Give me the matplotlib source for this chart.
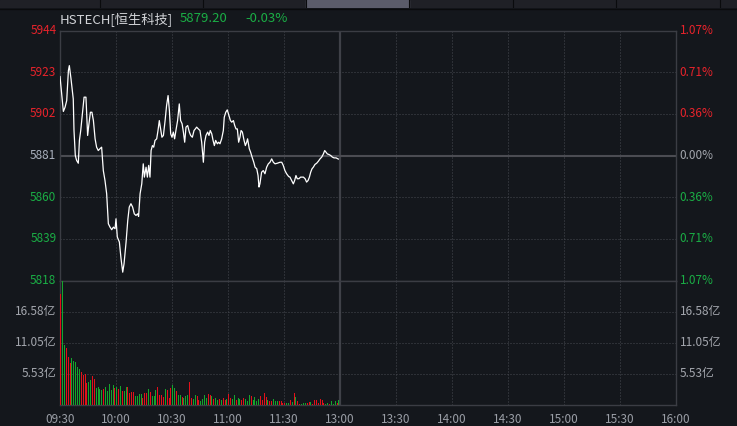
import matplotlib
matplotlib.use("Agg")
import matplotlib.pyplot as plt
from matplotlib.patches import Rectangle

plt.rcParams['font.family'] = ['Noto Sans CJK SC', 'DejaVu Sans']

# ---- data ----
name = "HSTECH[恒生科技]"
last_price = "5879.20"
change_pct = "-0.03%"
prev_close = 5881

price_ticks = [5818, 5839, 5860, 5881, 5902, 5923, 5944]
pct_labels = ["1.07%", "0.71%", "0.36%", "0.00%", "0.36%", "0.71%", "1.07%"]
vol_ticks = [5.53, 11.05, 16.58]
vol_labels = ["5.53亿", "11.05亿", "16.58亿"]
vol_top = 22.11
time_ticks = [0, 30, 60, 90, 120, 150, 180, 210, 240, 270, 300, 330]
time_labels = ["09:30", "10:00", "10:30", "11:00", "11:30", "13:00",
               "13:30", "14:00", "14:30", "15:00", "15:30", "16:00"]

# minutes after 09:30 (lunch break removed) and index value
t_min = [0.0, 0.9, 1.8, 2.7, 3.6, 4.5, 5.0, 5.9, 6.6, 7.1, 7.5, 8.2, 8.9, 9.8,
         10.4, 11.1, 12.0, 12.9, 13.9, 14.8, 15.4, 16.3, 17.1, 17.9, 18.8,
         19.6, 20.5, 21.4, 22.3, 23.2, 24.1, 25.0, 25.9, 26.8, 27.7, 28.6,
         29.5, 30.0, 30.7, 31.8, 32.7, 33.6, 34.3, 35.4, 36.3, 37.1, 38.0,
         38.9, 39.8, 40.7, 41.6, 42.1, 42.9, 43.8, 44.6, 45.2, 46.1, 46.8,
         47.5, 48.2, 48.8, 49.5, 50.2, 50.9, 51.8, 52.5, 53.2, 53.9, 54.6,
         55.4, 56.3, 57.1, 57.9, 58.6, 59.3, 60.0, 60.7, 61.4, 62.1, 63.0,
         63.9, 64.6, 65.4, 66.1, 66.8, 67.5, 68.4, 69.3, 70.0, 70.9, 71.8,
         72.5, 73.2, 74.1, 75.0, 75.9, 76.8, 77.5, 78.2, 79.1, 79.8, 80.5,
         81.3, 82.0, 82.7, 83.4, 84.3, 85.0, 85.7, 86.6, 87.5, 88.0, 88.8,
         89.6, 90.5, 91.3, 92.0, 92.9, 93.6, 94.3, 95.0, 95.7, 96.4, 97.0,
         97.7, 98.6, 99.3, 100.0, 100.5, 101.4, 102.1, 102.9, 103.8, 104.5,
         105.4, 106.1, 106.6, 107.1, 108.0, 108.9, 109.8, 110.7, 111.6,
         112.5, 113.4, 114.3, 115.2, 116.4, 117.9, 118.8, 119.6, 120.5,
         121.4, 122.5, 123.2, 124.1, 125.0, 125.7, 126.4, 127.1, 128.0,
         128.9, 129.6, 130.4, 131.3, 132.1, 132.9, 133.6, 134.3, 135.0,
         135.7, 136.6, 137.5, 138.4, 139.3, 140.2, 141.1, 141.8, 142.5,
         143.2, 144.1, 145.0, 145.9, 146.8, 147.9, 149.1]
price = [5920.8, 5912.1, 5903.2, 5905.3, 5908.7, 5923.8, 5926.3, 5919.6,
         5913.7, 5909.5, 5893.6, 5881.0, 5878.5, 5877.1, 5888.6, 5893.6,
         5902.0, 5910.4, 5910.4, 5891.1, 5896.1, 5902.8, 5902.8, 5898.6,
         5889.4, 5885.2, 5883.5, 5884.4, 5885.2, 5873.4, 5868.4, 5861.7,
         5846.6, 5844.9, 5843.6, 5844.9, 5844.1, 5849.1, 5839.9, 5837.4,
         5829.0, 5822.2, 5826.4, 5837.4, 5848.3, 5855.0, 5856.7, 5855.0,
         5851.6, 5850.8, 5851.6, 5850.3, 5861.7, 5866.7, 5876.8, 5870.1,
         5875.1, 5870.1, 5876.0, 5870.1, 5883.5, 5886.0, 5885.2, 5888.6,
         5889.4, 5893.6, 5898.6, 5894.4, 5890.2, 5891.1, 5898.6, 5906.2,
         5911.2, 5903.7, 5891.9, 5890.2, 5892.8, 5889.4, 5893.6, 5898.6,
         5907.0, 5898.6, 5897.0, 5892.8, 5887.7, 5895.3, 5896.1, 5892.8,
         5891.1, 5890.2, 5893.6, 5894.4, 5895.3, 5894.4, 5893.6, 5887.7,
         5877.6, 5887.7, 5891.1, 5892.8, 5891.1, 5893.6, 5891.9, 5888.6,
         5886.0, 5888.6, 5886.9, 5887.7, 5886.9, 5889.4, 5893.6, 5900.3,
         5902.8, 5904.0, 5901.1, 5898.6, 5897.8, 5898.6, 5896.1, 5894.4,
         5894.4, 5887.7, 5890.2, 5893.6, 5892.8, 5888.6, 5886.0, 5887.7,
         5889.4, 5884.4, 5882.7, 5880.2, 5877.6, 5875.1, 5874.3, 5870.9,
         5865.1, 5866.7, 5872.6, 5873.4, 5871.8, 5875.1, 5876.8, 5877.6,
         5879.3, 5877.6, 5876.8, 5877.1, 5877.6, 5877.6, 5876.0, 5873.4,
         5871.8, 5870.4, 5870.1, 5868.4, 5866.7, 5868.4, 5870.9, 5869.3,
         5869.3, 5870.1, 5870.1, 5870.1, 5869.3, 5867.6, 5868.4, 5870.1,
         5872.6, 5874.3, 5875.1, 5876.5, 5877.1, 5878.1, 5879.3, 5880.2,
         5881.8, 5883.5, 5882.7, 5881.8, 5881.5, 5881.0, 5880.2, 5879.8,
         5879.8, 5879.2]

# per-minute turnover (亿), one bar per minute from 09:30
volume = [19.7, 22.1, 10.7, 10.1, 8.6, 7.4, 8.3, 7.8, 7.7, 6.8, 6.4, 5.8, 5.3,
          5.5, 3.9, 4.1, 4.5, 5.2, 4.7, 3.0, 3.2, 2.8, 2.7, 2.8, 3.2, 2.5, 3.8,
          2.7, 3.6, 3.1, 3.2, 2.9, 3.4, 2.5, 2.5, 3.2, 3.2, 2.1, 2.3, 2.3, 1.6,
          1.6, 2.0, 2.0, 1.2, 2.1, 2.2, 2.9, 2.3, 1.6, 1.6, 2.7, 3.2,
          1.8, 1.7, 1.4, 2.9, 2.7, 1.2, 3.1, 3.6, 3.1, 2.5, 1.8, 1.8, 1.4, 1.2,
          1.6, 1.8, 4.1, 1.2, 1.1, 1.8, 1.6, 0.9, 0.7, 1.1, 1.8, 1.2, 2.0, 1.8,
          1.6, 1.1, 1.2, 0.9, 1.1, 0.9, 1.2, 0.9, 1.1, 2.0, 1.2, 1.1, 1.8, 0.9,
          1.2, 1.1, 0.9, 1.2, 1.1, 0.7, 1.8, 1.6,
          0.9, 1.4, 0.7, 1.1, 1.6, 0.9, 2.1, 1.4, 0.9, 0.7, 0.7, 1.1, 0.7, 0.7,
          0.7, 0.7, 0.4, 0.4, 0.4, 0.4, 0.9, 0.5, 2.1, 1.4, 0.7, 0.2, 0.2, 0.4,
          0.4, 0.4, 0.5, 0.5, 0.2, 0.9, 0.9, 0.4, 1.1, 0.9, 0.4, 0.2, 0.4, 0.2,
          0.7, 0.2, 0.7, 0.4, 0.9]
# r = up minute, g = down minute
vol_dir = ("rggrrrgggggrrrrggrrggggrgggggrgrgrggrrrrggggrrrgrgggr"
           "rrrgrrrggrggrgggrrggrrggggrrgrggrgrrgrrggrggrrgggr"
           "ggggrrrrgrrgggrrrrggrgrgrrgggrrgrrrrrrrggrgggrg")

# ---- style ----
BG = '#14171c'
RED = '#e8232b'
GREEN = '#1aae45'
BAR_RED = '#e3101a'
BAR_GREEN = '#14a52c'
BORDER = '#3b3d44'
GRID = '#474950'
GREY = '#a3a6ad'

W, H = 737, 426
fig = plt.figure(figsize=(W / 100, H / 100), dpi=100, facecolor=BG)

# tab strip on top
strip = fig.add_axes([0, 1 - 8 / H, 1, 8 / H])
strip.set_xlim(0, W)
strip.set_ylim(0, 1)
strip.axis('off')
strip.add_patch(Rectangle((0, 0), W, 1, color='#1f2026'))
strip.add_patch(Rectangle((306, 0), 103, 1, color='#5b5c6a'))
for sx in [100, 203, 306, 409, 513, 616, 720]:
    strip.axvline(sx, color='#0a0b0d', lw=0.8)
fig.add_artist(plt.Line2D([0, 1], [1 - 9 / H, 1 - 9 / H], color='#0a0b0d', lw=1))

left, right = 60 / W, 676 / W
ax = fig.add_axes([left, (H - 280.5) / H, right - left, 250 / H])
axv = fig.add_axes([left, (H - 405) / H, right - left, 124.5 / H])

for a in (ax, axv):
    a.set_facecolor(BG)
    a.set_xlim(0, 330)
    for s in a.spines.values():
        s.set_color(BORDER)
        s.set_linewidth(1)
    a.tick_params(length=0)
    a.set_yticks([])
    for t in time_ticks[1:-1]:
        if t == 150:
            a.axvline(t, color='#3f4148', lw=1.6, zorder=1)
        else:
            a.axvline(t, color=GRID, lw=0.72, ls=(0, (1, 2)), zorder=1)

ax.set_ylim(price_ticks[0], price_ticks[-1])
ax.set_xticks([])
for p in price_ticks[1:-1]:
    if p == prev_close:
        ax.axhline(p, color='#4b4c52', lw=1.5, zorder=1)
    else:
        ax.axhline(p, color=GRID, lw=0.72, ls=(0, (1, 2)), zorder=1)
ax.plot(t_min, price, color='white', lw=0.9, zorder=3)

ytr = ax.get_yaxis_transform()
for p, pl in zip(price_ticks, pct_labels):
    c = RED if p > prev_close else (GREEN if p < prev_close else None)
    ax.text(-0.006, p, str(p), transform=ytr, ha='right', va='center',
            fontsize=8.5, color=c or '#a9b0bd')
    ax.text(1.006, p, pl, transform=ytr, ha='left', va='center',
            fontsize=8.5, color=c or GREY)

axv.set_ylim(0, vol_top)
for v in vol_ticks:
    axv.axhline(v, color=GRID, lw=0.72, ls=(0, (1, 2)), zorder=1)
bar_x = [i + 0.4 for i in range(len(volume))]
bar_c = [BAR_RED if d == 'r' else BAR_GREEN for d in vol_dir]
axv.bar(bar_x, volume, width=0.54, color=bar_c, zorder=3, linewidth=0,
        antialiased=False)

vtr = axv.get_yaxis_transform()
for v, vl in zip(vol_ticks, vol_labels):
    axv.text(-0.006, v, vl, transform=vtr, ha='right', va='center',
             fontsize=8.5, color=GREY)
    axv.text(1.006, v, vl, transform=vtr, ha='left', va='center',
             fontsize=8.5, color=GREY)

axv.set_xticks(time_ticks)
axv.set_xticklabels(time_labels)
axv.tick_params(axis='x', pad=6, labelsize=8.5, labelcolor='#9a9ea6')

# header
fig.text(60 / W, 1 - 19 / H, name, fontsize=9.5, color='#d2d4d8', va='center')
fig.text(180 / W, 1 - 19 / H, last_price, fontsize=9.5, color=GREEN, va='center')
fig.text(245 / W, 1 - 19 / H, change_pct, fontsize=9.5, color=GREEN, va='center')

fig.savefig('out.png', dpi=100, facecolor=BG)
